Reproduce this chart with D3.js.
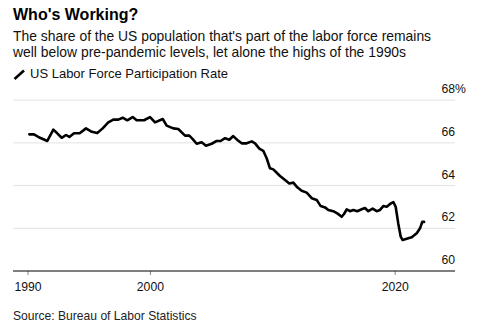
<!DOCTYPE html>
<html>
<head>
<meta charset="utf-8">
<script src="https://cdn.jsdelivr.net/npm/d3@7"></script>
<style>
  html, body { margin: 0; padding: 0; background: #fff; }
  svg { display: block; font-family: "Liberation Sans", Arial, Helvetica, sans-serif; }
</style>
</head>
<body>
<svg id="chart" width="500" height="330"></svg>
<script>
// ---- data ----
const years = [1990.15,1990.53,1991.02,1991.62,1992.11,1992.43,1992.79,1993.15,1993.42,1993.80,
  1994.29,1994.78,1995.25,1995.70,1996.14,1996.60,1997.01,1997.42,1997.78,1998.15,
  1998.59,1998.92,1999.52,2000.01,2000.42,2001.05,2001.37,2001.91,2002.32,2002.87,
  2003.22,2003.50,2003.82,2004.23,2004.58,2005.05,2005.46,2005.78,2006.14,2006.49,
  2006.81,2007.14,2007.50,2007.91,2008.32,2008.59,2008.94,2009.26,2009.54,2009.81,
  2010.08,2010.36,2010.63,2011.04,2011.39,2011.72,2012.04,2012.40,2012.81,2013.22,
  2013.63,2013.95,2014.31,2014.58,2014.98,2015.31,2015.67,2015.86,2016.08,2016.35,
  2016.62,2016.94,2017.30,2017.57,2017.84,2018.20,2018.53,2018.80,2019.07,2019.35,
  2019.62,2019.89,2020.08,2020.29,2020.49,2020.65,2020.98,2021.39,2021.80,2022.07,
  2022.25,2022.40];
const rates = [66.40,66.40,66.24,66.09,66.62,66.45,66.24,66.37,66.28,66.45,
  66.46,66.68,66.52,66.46,66.68,66.96,67.09,67.09,67.18,67.06,
  67.21,67.06,67.06,67.21,66.96,67.12,66.81,66.68,66.65,66.34,
  66.34,66.18,65.96,66.03,65.87,65.96,66.09,66.09,66.22,66.15,
  66.32,66.14,65.98,65.98,66.07,65.98,65.73,65.63,65.28,64.81,
  64.76,64.60,64.45,64.26,64.10,64.14,63.92,63.76,63.67,63.41,
  63.33,63.04,62.98,62.86,62.80,62.70,62.54,62.67,62.89,62.80,
  62.86,62.80,62.89,62.95,62.80,62.92,62.80,62.86,63.04,63.01,
  63.14,63.23,63.01,62.23,61.61,61.45,61.51,61.58,61.77,62.00,
  62.30,62.30];
const xTickValues = [1990, 2000, 2020];
const yTickValues = [60, 62, 64, 66, 68];
const titleText = "Who's Working?";
const subtitleLines = [
  "The share of the US population that's part of the labor force remains",
  "well below pre-pandemic levels, let alone the highs of the 1990s"
];
const legendText = "US Labor Force Participation Rate";
const sourceText = "Source: Bureau of Labor Statistics";

// ---- layout ----
const svg = d3.select("#chart");
const left = 13, right = 455;
const x = d3.scaleLinear().domain([1990, 2020]).range([27.5, 394.7]);
const y = d3.scaleLinear().domain([60, 68]).range([271, 100.2]);

// title & subtitle
svg.append("text").attr("x", 13).attr("y", 20)
  .attr("font-size", 16).attr("font-weight", "bold").attr("fill", "#000")
  .text(titleText);
svg.selectAll("text.sub").data(subtitleLines).join("text")
  .attr("class", "sub")
  .attr("x", 13).attr("y", (d, i) => 40.7 + i * 16.7)
  .attr("font-size", 13.9).attr("fill", "#111")
  .text(d => d);

// legend
svg.append("line").attr("x1", 14.5).attr("y1", 79).attr("x2", 24).attr("y2", 70.5)
  .attr("stroke", "#000").attr("stroke-width", 2.6).attr("stroke-linecap", "butt");
svg.append("text").attr("x", 30).attr("y", 77.7)
  .attr("font-size", 13).attr("fill", "#111").text(legendText);

// gridlines
svg.append("g").selectAll("line").data(yTickValues.filter(v => v !== 60)).join("line")
  .attr("x1", left).attr("x2", right)
  .attr("y1", d => y(d)).attr("y2", d => y(d))
  .attr("stroke", "#e2e2e2").attr("stroke-width", 1);

// y labels (numbers right-aligned, % hangs past the edge)
svg.append("g").selectAll("text").data(yTickValues).join("text")
  .attr("x", right).attr("y", d => y(d) - 7)
  .attr("text-anchor", "end").attr("font-size", 12.2).attr("fill", "#111")
  .text(d => d);
svg.append("text").attr("x", right).attr("y", y(d3.max(yTickValues)) - 7)
  .attr("font-size", 12.2).attr("fill", "#111").text("%");

// x axis
const xAxis = d3.axisBottom(x).tickValues(xTickValues).tickSize(4).tickPadding(7)
  .tickFormat(d3.format("d"));
const gx = svg.append("g").attr("transform", `translate(0,${y(60)})`).call(xAxis);
gx.select(".domain").remove();
gx.selectAll(".tick line").attr("stroke", "#888");
gx.selectAll(".tick text").attr("font-size", 12.2).attr("fill", "#111")
  .attr("font-family", "Liberation Sans, Arial, sans-serif");
svg.append("line").attr("x1", left).attr("x2", right)
  .attr("y1", y(60)).attr("y2", y(60)).attr("stroke", "#000").attr("stroke-width", 1);

// line
const pts = years.map((d, i) => [d, rates[i]]);
svg.append("path").datum(pts)
  .attr("fill", "none").attr("stroke", "#000").attr("stroke-width", 2.6)
  .attr("stroke-linejoin", "round").attr("stroke-linecap", "round")
  .attr("d", d3.line().x(d => x(d[0])).y(d => y(d[1])));

// source
svg.append("text").attr("x", 13).attr("y", 320)
  .attr("font-size", 12.1).attr("fill", "#222").text(sourceText);
</script>
</body>
</html>
